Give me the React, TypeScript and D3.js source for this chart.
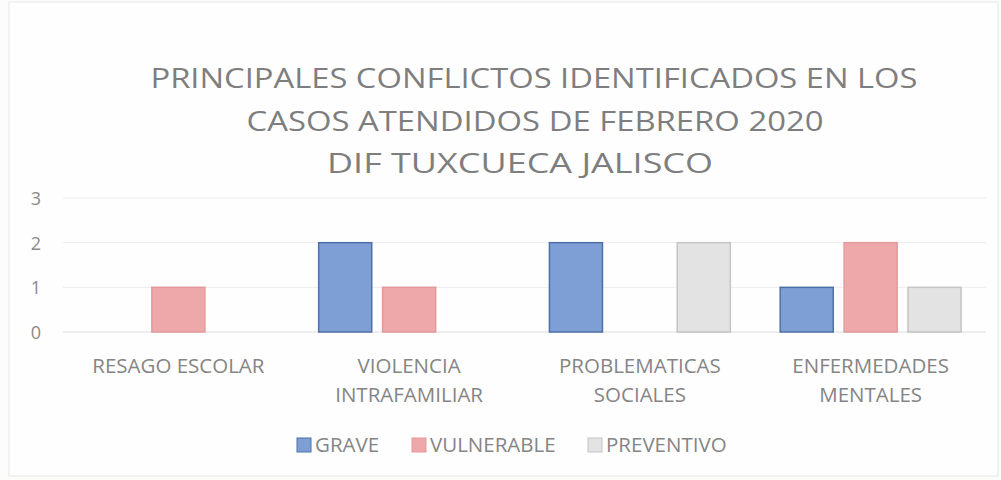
import React from 'react';
import * as d3 from 'd3';

const categories = [['RESAGO ESCOLAR'], ['VIOLENCIA', 'INTRAFAMILIAR'], ['PROBLEMATICAS', 'SOCIALES'], ['ENFERMEDADES', 'MENTALES']];
const seriesNames = ['GRAVE', 'VULNERABLE', 'PREVENTIVO'];
const grave = [0, 2, 2, 1];
const vulnerable = [1, 1, 0, 2];
const preventivo = [0, 0, 2, 1];
const yTicks = [0, 1, 2, 3];
const titleLines = ['PRINCIPALES CONFLICTOS IDENTIFICADOS EN LOS', 'CASOS ATENDIDOS DE FEBRERO 2020', 'DIF TUXCUECA JALISCO'];

const fills = ['#7d9fd5', '#efa8aa', '#e3e3e3'];
const strokes = ['#4f70a6', '#e39a9c', '#c4c4c4'];
const font = "'Open Sans', Lato, sans-serif";
// measured widths / centres of the title lines in the scan
const titleWidths = [767, 577, 386];
const titleCenters = [534, 535, 520];

export default function App() {
  const W = 1001, H = 480;
  const margin = { left: 63, right: 15, top: 198, bottom: 148 };
  const series = [grave, vulnerable, preventivo];
  const keys = categories.map((c) => c.join(' '));

  const x = d3.scaleBand().domain(keys).range([margin.left, W - margin.right]).paddingInner(0).paddingOuter(0);
  const xInner = d3.scaleBand().domain(seriesNames).range([0, x.bandwidth()]).paddingInner(0.17).paddingOuter(0.39);
  const y = d3.scaleLinear().domain([0, 3]).range([H - margin.bottom, margin.top]);

  return (
    <div style={{ position: 'absolute', left: 0, top: 0 }}>
      <svg width={W} height={H} style={{ display: 'block' }}>
        <rect x={0} y={0} width={W} height={H} fill="#fcfcfb" />
        <rect x={9} y={2} width={W - 12} height={H - 6} fill="#fefefe" stroke="#e6e6e6" />
        {titleLines.map((t, i) => (
          <text key={i} x={titleCenters[i] - titleWidths[i] / 2} y={88 + i * 42.5} textLength={titleWidths[i]} lengthAdjust="spacingAndGlyphs"
            fontFamily={font} fontSize={27.5} fill="#7e7e7e">{t}</text>
        ))}
        {yTicks.map((t) => (
          <g key={t}>
            <line x1={margin.left} x2={W - margin.right} y1={y(t)} y2={y(t)} stroke={t === 0 ? '#dcdcdc' : '#ececec'} strokeWidth={1} />
            <text x={36} y={y(t) + 7} textAnchor="middle" fontFamily={font} fontSize={18} fill="#8a8a8a">{t}</text>
          </g>
        ))}
        {series.map((vals, si) => vals.map((v, ci) => v > 0 ? (
          <rect key={`${si}-${ci}`}
            x={(x(keys[ci]) as number) + (xInner(seriesNames[si]) as number)}
            y={y(v)} width={xInner.bandwidth()} height={y(0) - y(v)}
            fill={fills[si]} stroke={strokes[si]} strokeWidth={1.5} />
        ) : null))}
        {categories.map((lines, ci) => lines.map((l, li) => (
          <text key={`${ci}-${li}`} x={(x(keys[ci]) as number) + x.bandwidth() / 2} y={373 + li * 29}
            textAnchor="middle" fontFamily={font} fontSize={20.5} fill="#858585">{l}</text>
        )))}
        {seriesNames.map((s, si) => {
          const lx = [297, 412, 588][si];
          return (
            <g key={s}>
              <rect x={lx} y={438} width={14} height={14} fill={fills[si]} stroke={strokes[si]} />
              <text x={lx + 18} y={452} fontFamily={font} fontSize={20.5} fill="#858585">{s}</text>
            </g>
          );
        })}
      </svg>
    </div>
  );
}
